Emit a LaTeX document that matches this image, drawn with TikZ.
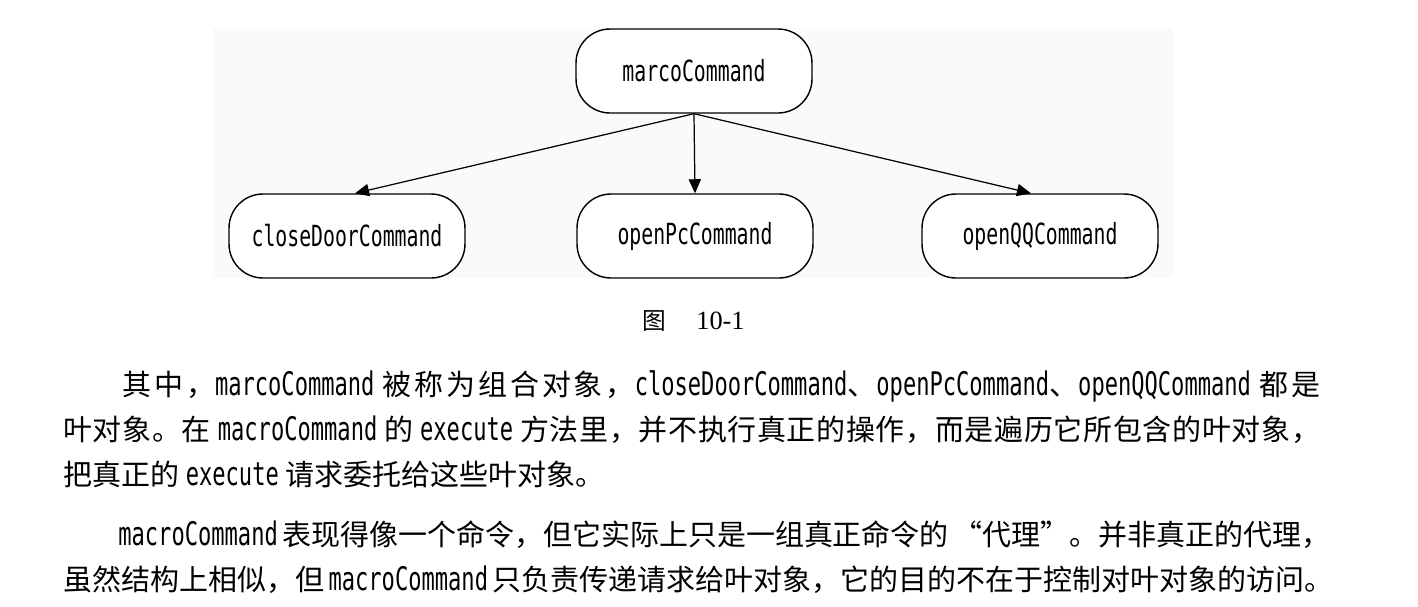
\documentclass[tikz,border=0pt]{standalone}
\usepackage{fontspec}
\usetikzlibrary{arrows.meta}

\newfontfamily\cjkfont{Noto Sans CJK SC}
\newfontfamily\codefont[FakeStretch=0.68, Scale=1.12]{DejaVu Sans Mono}
\newfontfamily\capfont{Liberation Serif}
\newcommand{\cmdtxt}[1]{{\codefont #1}}

% stretchable glue between Chinese characters, so that lines can be justified
\XeTeXinterchartokenstate=1
\newXeTeXintercharclass\cjkclass
\count255="3000
\loop\ifnum\count255<"A000
	\XeTeXcharclass\count255=\cjkclass
	\advance\count255 by 1
\repeat
\count255="FF00
\loop\ifnum\count255<"FFF0
	\XeTeXcharclass\count255=\cjkclass
	\advance\count255 by 1
\repeat
\XeTeXinterchartoks\cjkclass\cjkclass={\hskip 0pt plus 3pt\relax}

\begin{document}
\begin{tikzpicture}[x=0.02cm, y=-0.02cm,
		cmdbox/.style={draw, line width=0.8pt, fill=white, rounded corners=0.68cm, minimum width=4.72cm, minimum height=1.68cm, font=\codefont\fontsize{14.8}{18}\selectfont},
		textline/.style={anchor=base west, inner sep=0pt, font=\cjkfont\fontsize{16.5}{20}\selectfont},
		link/.style={-{Triangle[length=8pt,width=7pt]}, line width=0.7pt}]
			\useasboundingbox (0,0) rectangle (1418,606);

			% grey backdrop of the figure
			\fill [black!2] (213,28) rectangle (1173,278);

			% composite command
			\node[cmdbox] (marco) at (694,71) {marcoCommand};

			% leaf commands
			\node[cmdbox] (close) at (347,236) {closeDoorCommand};
			\node[cmdbox] (openpc) at (695,236) {openPcCommand};
			\node[cmdbox] (openqq) at (1040,236) {openQQCommand};

			% links
			\draw [link] (marco.south) -- ([xshift=0.16cm]close.north);
			\draw [link] (marco.south) -- (openpc.north);
			\draw [link] (marco.south) -- ([xshift=-0.18cm]openqq.north);

			% caption
			\node[anchor=base, inner sep=0pt, font=\cjkfont\fontsize{13.5}{16}\selectfont] (capfig) at (654,329) {图};
			\node[anchor=base west, inner sep=0pt, font=\capfont\fontsize{15}{18}\selectfont] (capnum) at (696,329) {10-1};

			% first paragraph
			\node[textline] (l1) at (122,395) {\hbox to 23.96cm{其中，\cmdtxt{marcoCommand} 被称为组合对象，\cmdtxt{closeDoorCommand}、\cmdtxt{openPcCommand}、\cmdtxt{openQQCommand} 都是}};
			\node[textline] (l2) at (63,440) {\hbox to 25.14cm{叶对象。在 \cmdtxt{macroCommand} 的 \cmdtxt{execute} 方法里，并不执行真正的操作，而是遍历它所包含的叶对象，}};
			\node[textline] (l3) at (63,485) {把真正的 \cmdtxt{execute} 请求委托给这些叶对象。};

			% second paragraph
			\node[textline] (l4) at (118,545) {\hbox to 24.04cm{\cmdtxt{macroCommand} 表现得像一个命令，但它实际上只是一组真正命令的 “代理”。并非真正的代理，}};
			\node[textline] (l5) at (63,590) {\hbox to 25.14cm{虽然结构上相似，但 \cmdtxt{macroCommand} 只负责传递请求给叶对象，它的目的不在于控制对叶对象的访问。}};

		\end{tikzpicture}
\end{document}
